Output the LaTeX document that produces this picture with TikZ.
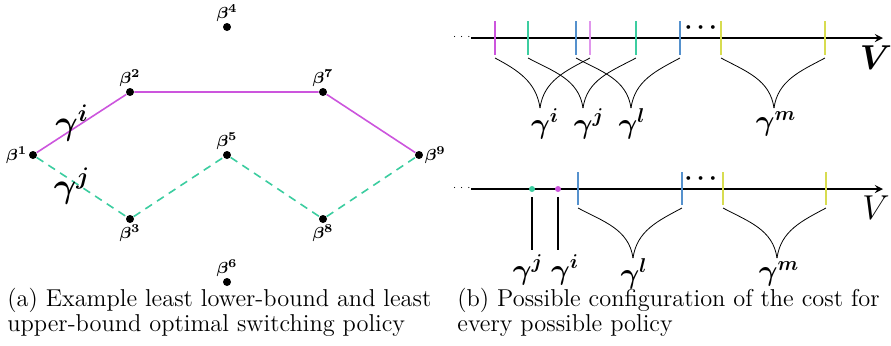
\documentclass[tikz,border=0pt]{standalone}
\usepackage{amsmath}
\usepackage{bm}
\usetikzlibrary{calc}

\definecolor{polmag}{RGB}{204,85,221}
\definecolor{polpink}{RGB}{224,150,236}
\definecolor{polgreen}{RGB}{60,205,160}
\definecolor{polblue}{RGB}{85,145,205}
\definecolor{polyellow}{RGB}{215,220,80}

\tikzset{
	state/.style={circle, fill=black, inner sep=0pt, minimum size=4pt},
	blab/.style={font=\fontsize{8.5}{9}\selectfont\boldmath, inner sep=0.5pt},
	glab/.style={font=\fontsize{17}{18}\selectfont\boldmath, inner sep=0pt},
	clab/.style={font=\fontsize{14.5}{16}\selectfont\boldmath, inner sep=0pt},
	cost/.style={line width=1pt},
	capt/.style={anchor=north west, align=left, inner sep=0pt,
		font=\fontsize{12.2}{12.6}\selectfont},
}

% one cost interval: left end, apex, right end
\newcommand{\costcurve}[3]{
	\draw (#1) to[out=-28, in=98] (#2);
	\draw (#3) to[out=208, in=82] (#2);
}

\begin{document}
\begin{tikzpicture}[x=0.5pt, y=-0.5pt, >=stealth]
	\useasboundingbox (0,0) rectangle (891,345);

	% switching points
	\node[state, label={[blab]left:$\beta^1$}] (b1) at (33,155) {};
	\node[state, label={[blab]above:$\beta^2$}] (b2) at (130,92) {};
	\node[state, label={[blab]below:$\beta^3$}] (b3) at (130,219) {};
	\node[state, label={[blab]above:$\beta^4$}] (b4) at (227,27) {};
	\node[state, label={[blab]above:$\beta^5$}] (b5) at (227,155) {};
	\node[state, label={[blab]above:$\beta^6$}] (b6) at (227,282) {};
	\node[state, label={[blab]above:$\beta^7$}] (b7) at (323,92) {};
	\node[state, label={[blab]below:$\beta^8$}] (b8) at (323,219) {};
	\node[state, label={[blab]right:$\beta^9$}] (b9) at (419,155) {};

	% the two policies
	\draw[polmag, thick] (b1) -- (b2) -- (b7) -- (b9);
	\draw[polgreen, thick, dash pattern=on 4pt off 3pt] (b1) -- (b3) -- (b5) -- (b8) -- (b9);
	\node[glab] (gi) at (72,123) {$\gamma^i$};
	\node[glab] (gj) at (72,186) {$\gamma^j$};

	% upper axis
	\coordinate (A0) at (471,38);
	\coordinate (A1) at (883,38);
	\draw[->, thick] (A0) -- (A1);
	\node[font=\tiny, inner sep=0pt] (ldots) at (463,37) {$\cdots$};
	\node[font=\fontsize{17}{18}\selectfont\boldmath, inner sep=0pt] (Vtop) at (876,58) {$V$};
	\node[font=\large, inner sep=0pt] (rdots) at (703,28) {$\bm{\cdots}$};

	% interval ends on the upper axis
	\foreach \x/\c in {495/polmag, 528/polgreen, 576/polblue, 590/polpink,
		636/polgreen, 680/polblue, 721/polyellow, 825/polyellow}
		\draw[cost, \c] (\x,21) -- (\x,55);

	\foreach \x in {495,528,576,590,636,680,721,825}
		\coordinate (t\x) at (\x,58);
	\coordinate (ai) at (540,108);
	\coordinate (aj) at (583,108);
	\coordinate (al) at (631,108);
	\coordinate (am) at (774,108);
	\costcurve{t495}{ai}{t590}
	\costcurve{t528}{aj}{t636}
	\costcurve{t576}{al}{t680}
	\costcurve{t721}{am}{t825}
	\node[clab] (ci) at (545,124) {$\gamma^i$};
	\node[clab] (cj) at (589,124) {$\gamma^j$};
	\node[clab] (cl) at (632,124) {$\gamma^l$};
	\node[clab] (cm) at (776,124) {$\gamma^m$};

	% lower axis
	\coordinate (B0) at (471,189);
	\coordinate (B1) at (883,189);
	\draw[->, thick] (B0) -- (B1);
	\node[font=\tiny, inner sep=0pt] (ldots2) at (463,188) {$\cdots$};
	\node[font=\fontsize{17}{18}\selectfont, inner sep=0pt] (Vbot) at (876,208) {$V$};
	\node[font=\large, inner sep=0pt] (rdots2) at (703,179) {$\bm{\cdots}$};

	% single-valued costs
	\node[circle, fill=polgreen, inner sep=0pt, minimum size=3pt] (pj) at (532,189) {};
	\node[circle, fill=polmag, inner sep=0pt, minimum size=3pt] (pi) at (558,189) {};
	\draw[thick] (532,197) -- (532,250);
	\draw[thick] (558,197) -- (558,250);
	\node[clab] (dj) at (528,270) {$\gamma^j$};
	\node[clab] (di) at (565,270) {$\gamma^i$};

	\foreach \x/\c in {578/polblue, 682/polblue, 723/polyellow, 826/polyellow}
		\draw[cost, \c] (\x,172) -- (\x,205);
	\foreach \x in {578,682,723,826}
		\coordinate (s\x) at (\x,208);
	\coordinate (bl) at (633,258);
	\coordinate (bm) at (777,258);
	\costcurve{s578}{bl}{s682}
	\costcurve{s723}{bm}{s826}
	\node[clab] (el) at (634,274) {$\gamma^l$};
	\node[clab] (em) at (779,274) {$\gamma^m$};

	% captions
	\node[capt] (capa) at (7,288)
		{(a) Example least lower-bound and least\\upper-bound optimal switching policy};
	\node[capt] (capb) at (457,288)
		{(b) Possible configuration of the cost for\\every possible policy};
\end{tikzpicture}
\end{document}
